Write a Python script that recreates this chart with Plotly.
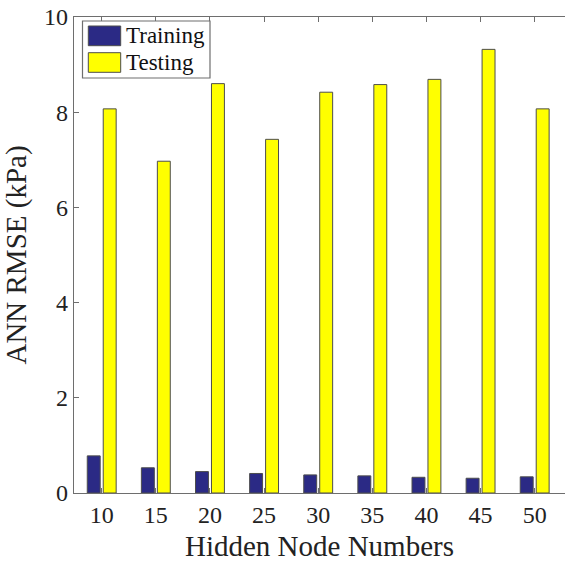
import plotly.graph_objects as go

# Hidden node counts tested and the resulting ANN RMSE (kPa)
hidden_nodes = [10, 15, 20, 25, 30, 35, 40, 45, 50]
training_rmse = [0.78, 0.53, 0.45, 0.41, 0.38, 0.36, 0.33, 0.31, 0.34]
testing_rmse = [8.07, 6.97, 8.60, 7.43, 8.42, 8.58, 8.69, 9.32, 8.07]
series_names = ["Training", "Testing"]
series_colors = ["#2B2A85", "#FFFF00"]
y_ticks = [0, 2, 4, 6, 8, 10]

FONT = "Liberation Serif"
EDGE = "#4d4d4d"
AXIS = "#6e6e6e"

fig = go.Figure()
for name, vals, col in zip(series_names, [training_rmse, testing_rmse], series_colors):
    fig.add_trace(go.Bar(
        x=hidden_nodes, y=vals, name=name,
        marker=dict(color=col, line=dict(color=EDGE, width=1)),
        showlegend=False,
    ))

axis_common = dict(
    showline=True, linecolor=AXIS, linewidth=1.2,
    ticks="inside", ticklen=5, tickcolor=AXIS, showgrid=False, zeroline=False,
    tickfont=dict(family=FONT, size=24, color="#222"),
)

fig.update_layout(
    width=565, height=567,
    margin=dict(l=74, r=0, t=17, b=74),
    paper_bgcolor="white", plot_bgcolor="white",
    barmode="group", bargap=0.41, bargroupgap=0.19,
    font=dict(family=FONT),
    xaxis=dict(
        range=[7.44, 52.8], tickvals=hidden_nodes, mirror="ticks",
        title=dict(text="Hidden Node Numbers", font=dict(family=FONT, size=29, color="#222"), standoff=8),
        **axis_common,
    ),
    yaxis=dict(
        range=[0, 10], tickvals=y_ticks, mirror=False,
        title=dict(text="ANN RMSE (kPa)", font=dict(family=FONT, size=29, color="#222"), standoff=10),
        **axis_common,
    ),
)

# Legend box drawn in paper coordinates with wide swatches
W, H = 565.0, 567.0
pl, pb, pw, ph = 74.0, 74.0, 491.0, 476.0


def px(x):
    return (x - pl) / pw


def py(y):
    return (H - y - pb) / ph


fig.add_shape(type="rect", xref="paper", yref="paper",
              x0=px(82.5), x1=px(210), y0=py(78), y1=py(21),
              line=dict(color=AXIS, width=1.2), fillcolor="white", layer="above")
swatch_rows = [(26, 45.7), (52.7, 72.3)]
for (y0, y1), name, col in zip(swatch_rows, series_names, series_colors):
    fig.add_shape(type="rect", xref="paper", yref="paper",
                  x0=px(88.3), x1=px(120.7), y0=py(y1), y1=py(y0),
                  line=dict(color=EDGE, width=1), fillcolor=col, layer="above")
    fig.add_annotation(xref="paper", yref="paper", x=px(124), y=py((y0 + y1) / 2),
                       text=name, showarrow=False, xanchor="left", yanchor="middle",
                       font=dict(family=FONT, size=23, color="#111"))

fig.write_html("out.html")
